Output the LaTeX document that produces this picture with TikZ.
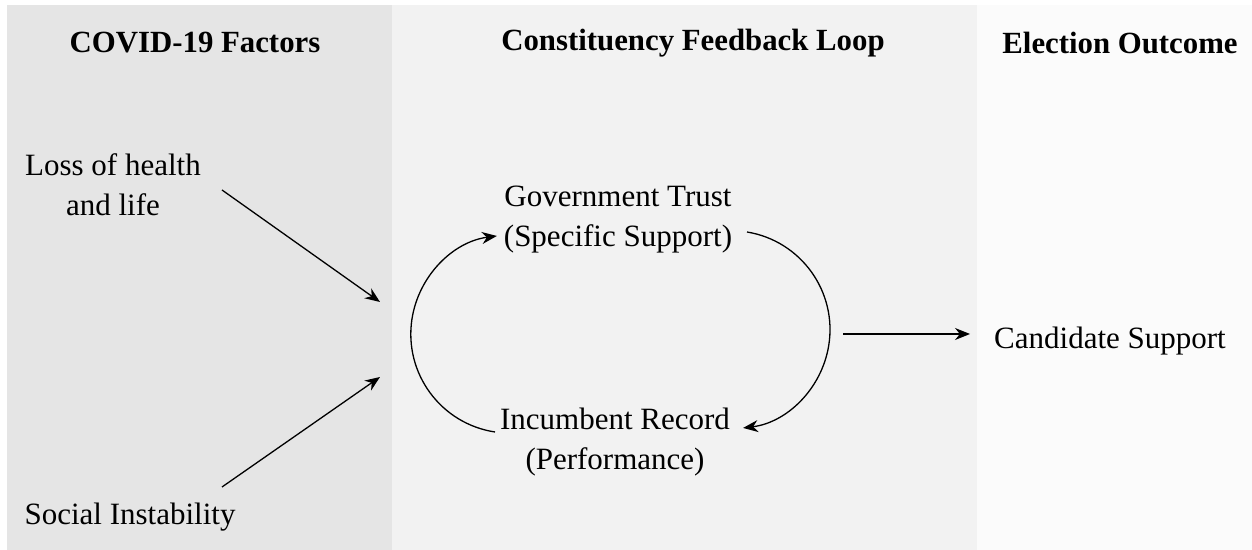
\documentclass[tikz,border=0pt]{standalone}
\usepackage{fontspec}
\setmainfont{Liberation Serif}
\usetikzlibrary{arrows.meta}
\definecolor{panelA}{HTML}{E5E5E5}
\definecolor{panelB}{HTML}{F2F2F2}
\definecolor{panelC}{HTML}{FBFBFB}
\tikzset{
  title/.style={font=\fontsize{15.4pt}{18pt}\selectfont\bfseries, inner sep=0pt},
  label/.style={font=\fontsize{15.5pt}{20pt}\selectfont, align=center, inner sep=0pt},
  conn/.style={line width=0.65pt, -{Stealth[length=7.5pt,width=6pt]}}
}
\begin{document}
\begin{tikzpicture}[x=0.5pt,y=0.5pt]
\useasboundingbox (0,0) rectangle (1252,550);
\fill[white] (0,0) rectangle (1252,550);
\fill[panelA] (7,0) rectangle (392,545);
\fill[panelB] (392,0) rectangle (977,545);
\fill[panelC] (977,0) rectangle (1252,545);

\node[title] (t1) at (195,507) {COVID-19 Factors};
\node[title] (t2) at (693,507) {Constituency Feedback Loop};
\node[title] (t3) at (1120,507) {Election Outcome};

\node[label] (loss) at (113,365) {Loss of health\\and life};
\node[label] (social) at (130,33) {Social Instability};
\node[label] (gov) at (618,330) {Government Trust\\(Specific Support)};
\node[label] (inc) at (615,108) {Incumbent Record\\(Performance)};
\node[label] (cand) at (1110,209) {Candidate Support};

\coordinate (lossend) at (222,360);
\coordinate (socialend) at (222,63);
\coordinate (hubtop) at (380,248);
\coordinate (hubbot) at (380,173);
\coordinate (incleft) at (495,118);
\coordinate (govright) at (747,318);
\coordinate (loopout) at (843,216);
\coordinate (candin) at (970,216);

\draw[conn] (lossend) -- (hubtop);
\draw[conn] (socialend) -- (hubbot);
\draw[conn] (incleft) arc[start angle=-98.6, end angle=-262.5, radius=99];
\draw[conn] (govright) arc[start angle=80.7, end angle=-83, radius=99];
\draw[conn] (loopout) -- (candin);
\end{tikzpicture}
\end{document}
